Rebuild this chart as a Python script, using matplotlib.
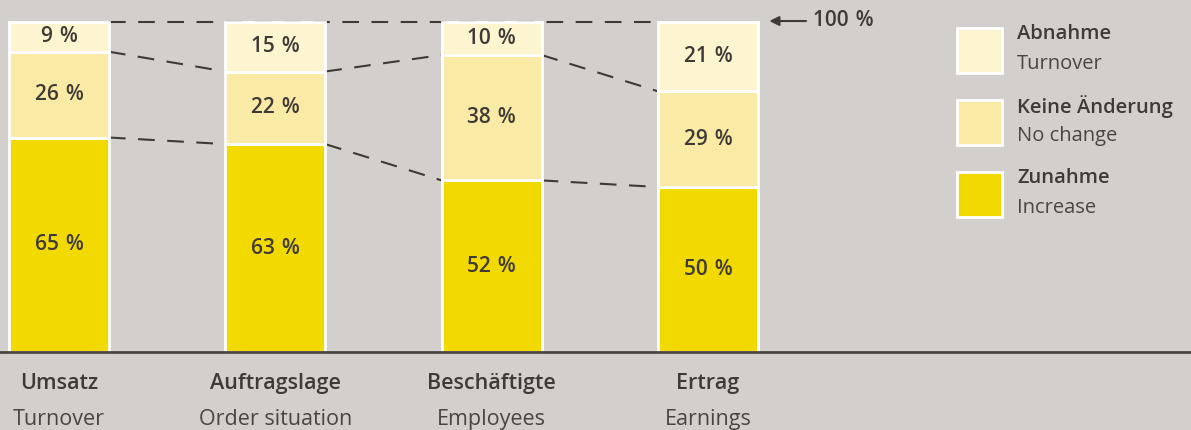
import matplotlib.pyplot as plt
from matplotlib.patches import Rectangle

categories = ["Umsatz", "Auftragslage", "Beschäftigte", "Ertrag"]
categories_en = ["Turnover", "Order situation", "Employees", "Earnings"]
increase = [65, 63, 52, 50]
no_change = [26, 22, 38, 29]
decrease = [9, 15, 10, 21]

legend_de = ["Abnahme", "Keine Änderung", "Zunahme"]
legend_en = ["Turnover", "No change", "Increase"]

bg = "#d3cfcc"
dark = "#3f3a37"
c_inc = "#f2da00"
c_nc = "#f9eba6"
c_dec = "#fcf5d0"

plt.rcParams['font.family'] = ['Open Sans', 'DejaVu Sans']
fs = 15.5
bw = "semibold"
sp = "\u2004"  # a bit wider gap before %

fig = plt.figure(figsize=(11.91, 4.30), dpi=100)
fig.patch.set_facecolor(bg)
ax = fig.add_axes([0, 0, 1, 1])
ax.set_facecolor(bg)
ax.set_xlim(-0.2728, 5.233)
ax.set_ylim(-23.64, 106.67)
ax.axis("off")

x = list(range(len(categories)))
w = 0.462

ax.bar(x, increase, width=w, color=c_inc, edgecolor="white", linewidth=2, zorder=3)
ax.bar(x, no_change, width=w, bottom=increase, color=c_nc, edgecolor="white", linewidth=2, zorder=3)
bot2 = [a + b for a, b in zip(increase, no_change)]
ax.bar(x, decrease, width=w, bottom=bot2, color=c_dec, edgecolor="white", linewidth=2, zorder=3)

# dashed connectors between bars
for i in range(len(x) - 1):
    for lev in (increase, bot2):
        ax.plot([x[i] + w / 2, x[i + 1] - w / 2], [lev[i], lev[i + 1]],
                color=dark, lw=1.5, dashes=(8, 6), zorder=2)
ax.plot([x[0] + w / 2, x[-1] - w / 2], [100, 100], color=dark, lw=1.5, dashes=(8, 6), zorder=2)

# value labels
for i in x:
    ax.text(i, increase[i] / 2, f"{increase[i]}{sp}%", ha="center", va="center",
            fontsize=15, fontweight=bw, color=dark, zorder=4)
    ax.text(i, increase[i] + no_change[i] / 2, f"{no_change[i]}{sp}%", ha="center", va="center",
            fontsize=15, fontweight=bw, color=dark, zorder=4)
    ax.text(i, bot2[i] + decrease[i] / 2, f"{decrease[i]}{sp}%", ha="center", va="center",
            fontsize=15, fontweight=bw, color=dark, zorder=4)

# baseline
ax.axhline(0, color="#4a4542", lw=2, zorder=5)

# category labels
for i in x:
    ax.text(i, -9.5, categories[i], ha="center", va="center", fontsize=fs,
            fontweight=bw, color=dark)
    ax.text(i, -20.5, categories_en[i], ha="center", va="center", fontsize=fs,
            color="#4a4542")

# 100 % arrow
ax.annotate("", xy=(x[-1] + w / 2 + 0.04, 100.3), xytext=(x[-1] + w / 2 + 0.235, 100.3),
            arrowprops=dict(arrowstyle="-|>", color=dark, lw=1.5, mutation_scale=14))
ax.text(x[-1] + w / 2 + 0.255, 100.6, f"100{sp}%", ha="left", va="center", fontsize=15,
        fontweight=bw, color=dark)

# legend
legend_colors = [c_dec, c_nc, c_inc]
for k in range(3):
    top = 0.935 - k * 0.168
    fig.patches.append(Rectangle((957 / 1191, top - 45 / 430), 45 / 1191, 45 / 430,
                                 transform=fig.transFigure, facecolor=legend_colors[k],
                                 edgecolor="white", lw=2))
    fig.text(1017 / 1191, top - 0.014, legend_de[k], ha="left", va="center",
             fontsize=14.5, fontweight=bw, color=dark)
    fig.text(1017 / 1191, top - 0.083, legend_en[k], ha="left", va="center",
             fontsize=14.5, color="#4a4542")

fig.savefig("out.png", dpi=100, facecolor=bg)
